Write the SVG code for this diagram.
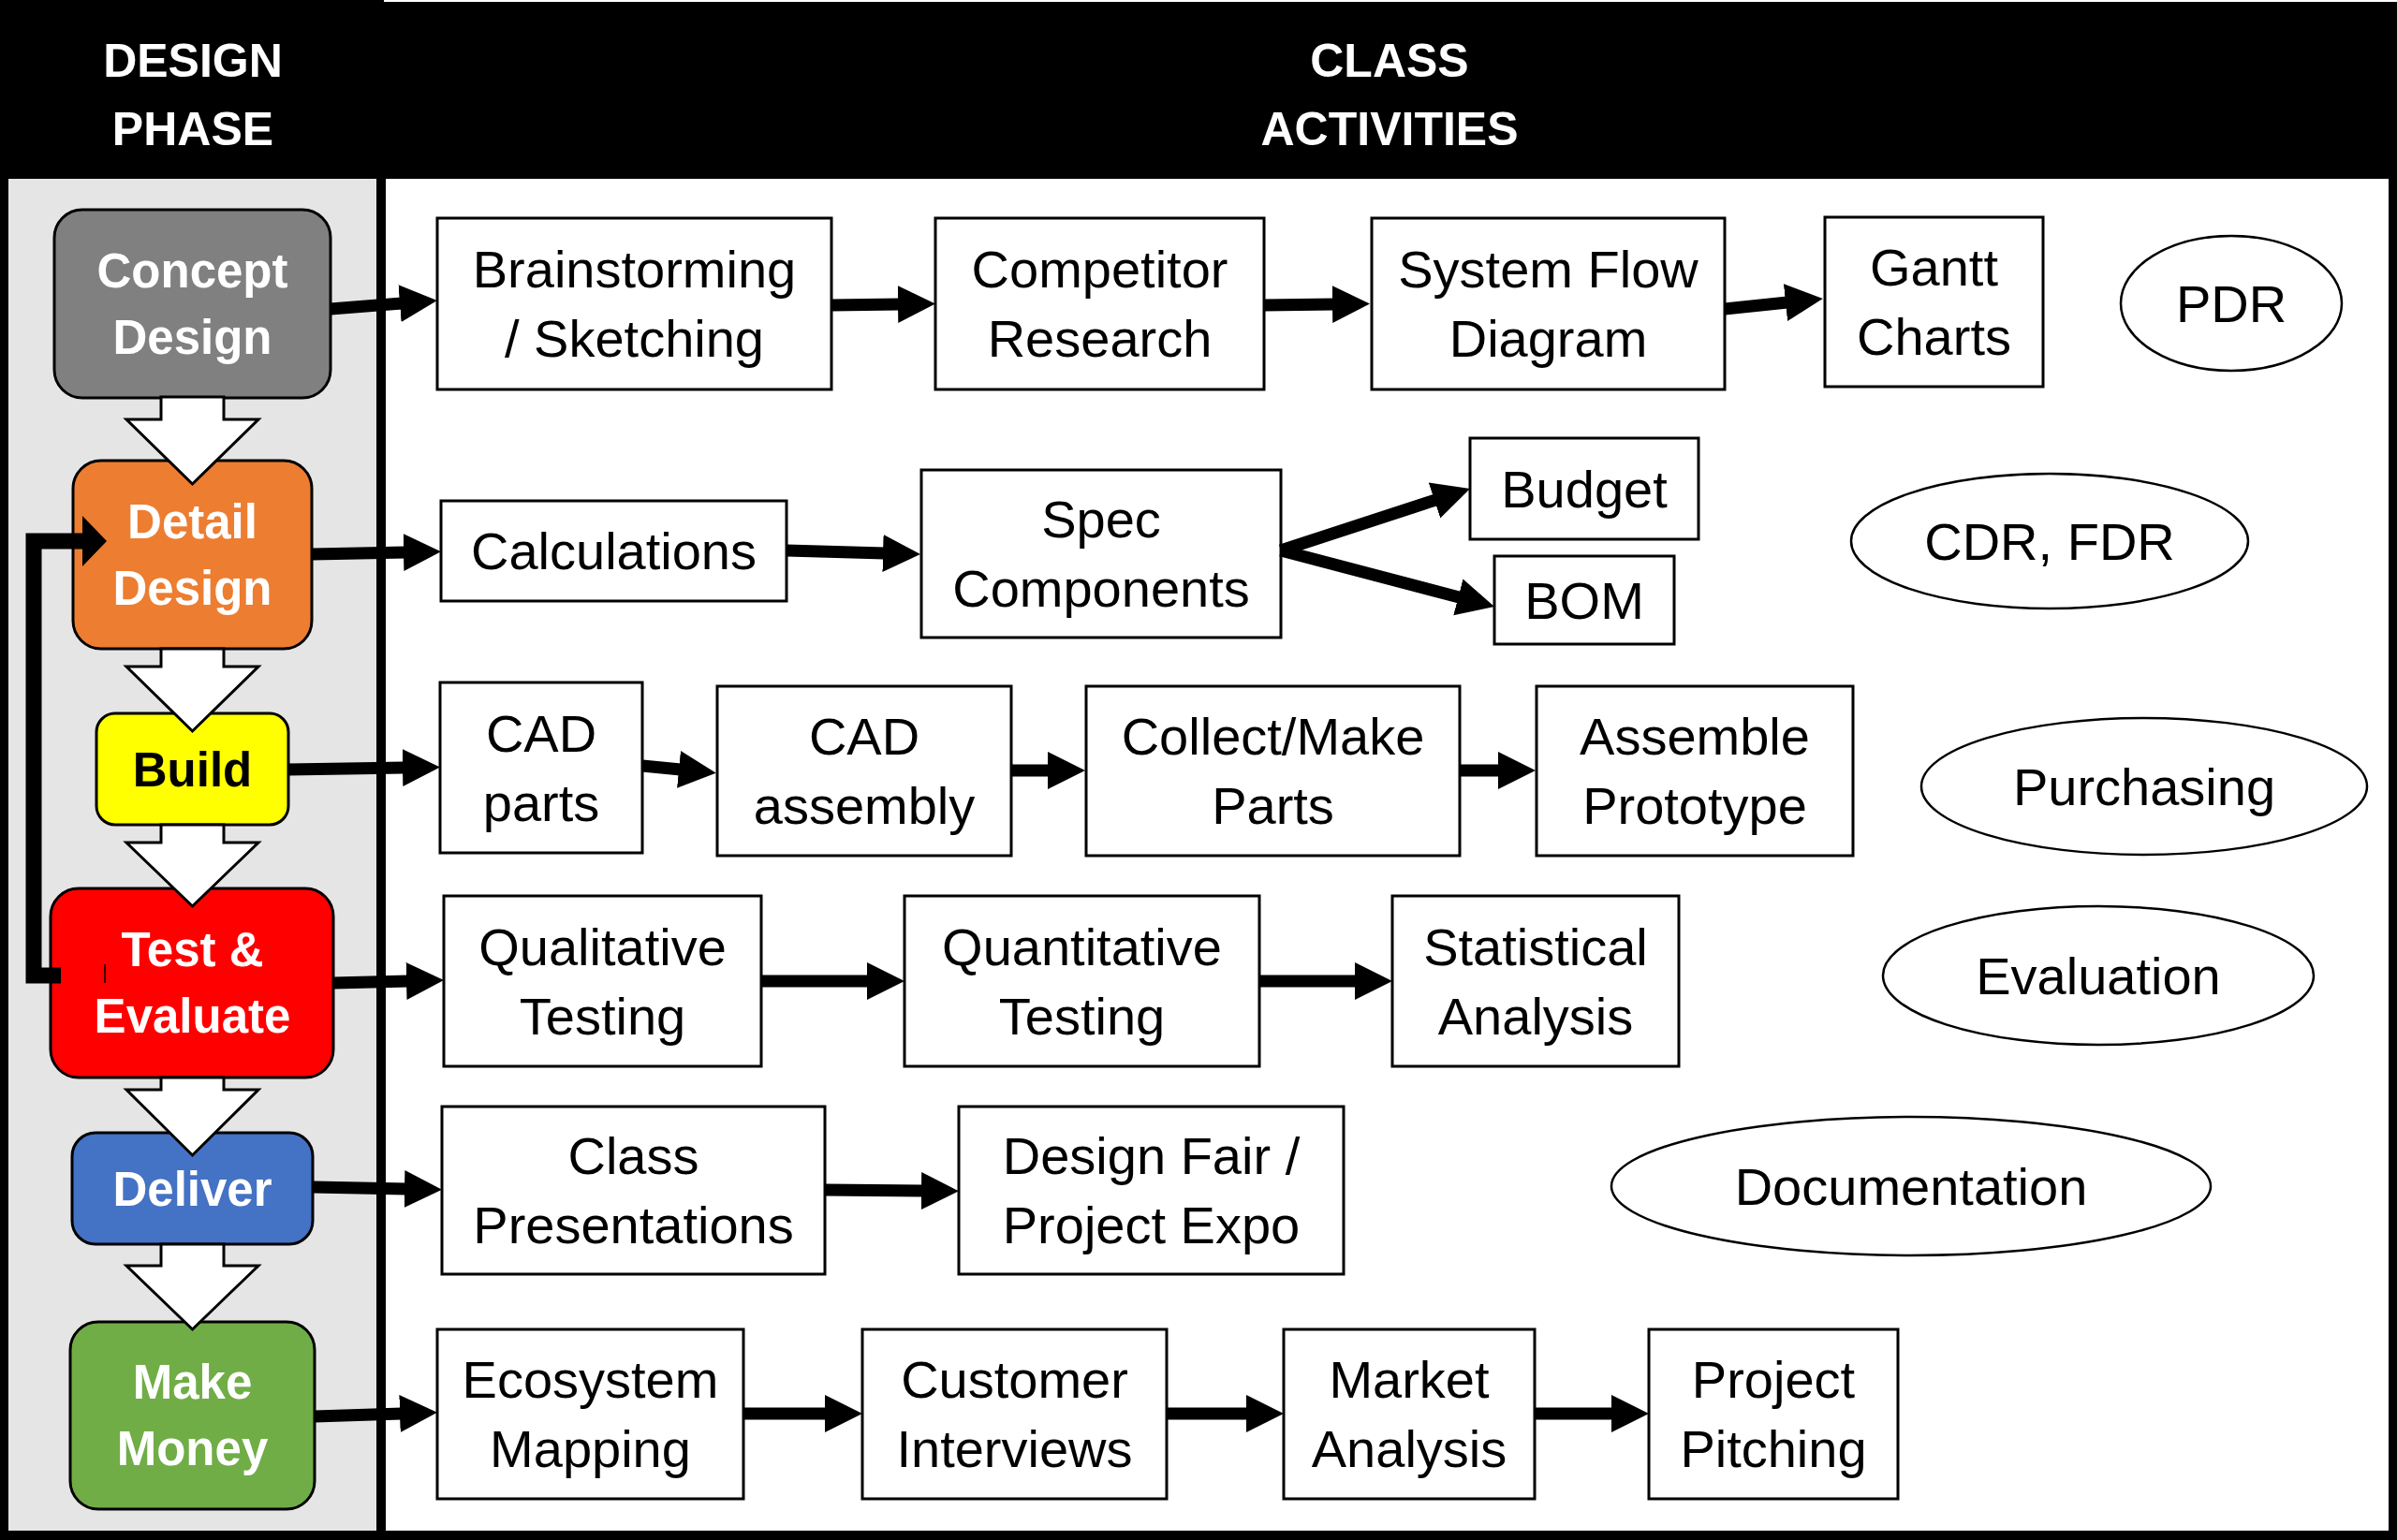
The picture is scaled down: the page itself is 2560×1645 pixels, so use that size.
<svg xmlns="http://www.w3.org/2000/svg" width="2560" height="1645" viewBox="0 0 2560 1645">
<defs>
<style>
.hdr{font-family:"Liberation Sans",Arial,sans-serif;font-weight:bold;font-size:50px;fill:#fff;text-anchor:middle}
.ph{stroke:#000;stroke-width:3}
.pt{font-family:"Liberation Sans",Arial,sans-serif;font-weight:bold;font-size:51px;fill:#fff;text-anchor:middle}
.box{fill:#fff;stroke:#000;stroke-width:3}
.ov{fill:#fff;stroke:#000;stroke-width:2.5}
.t{font-family:"Liberation Sans",Arial,sans-serif;font-size:56px;fill:#000;text-anchor:middle}
.c{stroke:#000;stroke-width:13;fill:none;marker-end:url(#ah)}
.blk{fill:#fff;stroke:#000;stroke-width:3;stroke-linejoin:miter}
</style>
<marker id="ah" markerUnits="userSpaceOnUse" markerWidth="44" markerHeight="44" viewBox="0 -22 44 44" refX="2" refY="0" orient="auto">
<path d="M0,-20 L40,0 L0,20 z" fill="#000"/>
</marker>
</defs>

<g id="background">
<rect x="0" y="0" width="2560" height="1645" fill="#000"/>
<rect x="410" y="0" width="2150" height="2" fill="#fff"/>
<rect x="9" y="191" width="393" height="1444" fill="#e5e5e5"/>
<rect x="412" y="191" width="2139" height="1444" fill="#fff"/>
<text class="hdr" x="206" y="82">DESIGN</text>
<text class="hdr" x="206" y="155">PHASE</text>
<text class="hdr" x="1484" y="82">CLASS</text>
<text class="hdr" x="1484" y="155">ACTIVITIES</text>
</g>

<g id="phase-concept">
<rect class="ph" x="58" y="224" width="295" height="201" rx="30" fill="#808080"/>
<text class="pt" x="205.5" y="307">Concept</text>
<text class="pt" x="205.5" y="378">Design</text>
</g>
<g id="phase-detail">
<rect class="ph" x="78" y="492" width="255" height="201" rx="30" fill="#ed7d31"/>
<text class="pt" x="205.5" y="575">Detail</text>
<text class="pt" x="205.5" y="646">Design</text>
</g>
<g id="phase-build">
<rect class="ph" x="103" y="762" width="205" height="119" rx="20" fill="#ffff00"/>
<text class="pt" x="205.5" y="840" fill="#000" style="fill:#000">Build</text>
</g>
<g id="phase-test">
<rect class="ph" x="54" y="949" width="302" height="202" rx="30" fill="#ff0000"/>
<text class="pt" x="205.5" y="1032">Test &amp;</text>
<text class="pt" x="205.5" y="1103">Evaluate</text>
</g>
<g id="phase-deliver">
<rect class="ph" x="77" y="1210" width="257" height="119" rx="25" fill="#4472c4"/>
<text class="pt" x="205.5" y="1288">Deliver</text>
</g>
<g id="phase-money">
<rect class="ph" x="75" y="1412" width="261" height="200" rx="30" fill="#70ad47"/>
<text class="pt" x="205.5" y="1494">Make</text>
<text class="pt" x="205.5" y="1565">Money</text>
</g>

<g id="act-brainstorm"><rect class="box" x="467" y="233" width="421" height="183"/><text class="t" x="677.5" y="307">Brainstorming</text><text class="t" x="677.5" y="381">/ Sketching</text></g>
<g id="act-competitor"><rect class="box" x="999" y="233" width="351" height="183"/><text class="t" x="1174.5" y="307">Competitor</text><text class="t" x="1174.5" y="381">Research</text></g>
<g id="act-sysflow"><rect class="box" x="1465" y="233" width="377" height="183"/><text class="t" x="1653.5" y="307">System Flow</text><text class="t" x="1653.5" y="381">Diagram</text></g>
<g id="act-gantt"><rect class="box" x="1949" y="232" width="233" height="181"/><text class="t" x="2065.5" y="305">Gantt</text><text class="t" x="2065.5" y="379">Charts</text></g>
<g id="rev-pdr"><ellipse class="ov" cx="2383" cy="324" rx="118" ry="72"/><text class="t" x="2383" y="344">PDR</text></g>

<g id="act-calc"><rect class="box" x="471" y="535" width="369" height="107"/><text class="t" x="655.5" y="608">Calculations</text></g>
<g id="act-spec"><rect class="box" x="984" y="502" width="384" height="179"/><text class="t" x="1176" y="574">Spec</text><text class="t" x="1176" y="648">Components</text></g>
<g id="act-budget"><rect class="box" x="1570" y="468" width="244" height="108"/><text class="t" x="1692" y="542">Budget</text></g>
<g id="act-bom"><rect class="box" x="1596" y="594" width="192" height="94"/><text class="t" x="1692" y="661">BOM</text></g>
<g id="rev-cdr"><ellipse class="ov" cx="2189" cy="578" rx="212" ry="72"/><text class="t" x="2189" y="598">CDR, FDR</text></g>

<g id="act-cadparts"><rect class="box" x="470" y="729" width="216" height="182"/><text class="t" x="578" y="803">CAD</text><text class="t" x="578" y="877">parts</text></g>
<g id="act-cadasm"><rect class="box" x="766" y="733" width="314" height="181"/><text class="t" x="923" y="806">CAD</text><text class="t" x="923" y="880">assembly</text></g>
<g id="act-collect"><rect class="box" x="1160" y="733" width="399" height="181"/><text class="t" x="1359.5" y="806">Collect/Make</text><text class="t" x="1359.5" y="880">Parts</text></g>
<g id="act-assemble"><rect class="box" x="1641" y="733" width="338" height="181"/><text class="t" x="1810" y="806">Assemble</text><text class="t" x="1810" y="880">Prototype</text></g>
<g id="rev-purchasing"><ellipse class="ov" cx="2290" cy="840" rx="238" ry="73"/><text class="t" x="2290" y="860">Purchasing</text></g>

<g id="act-qual"><rect class="box" x="474" y="957" width="339" height="182"/><text class="t" x="643.5" y="1031">Qualitative</text><text class="t" x="643.5" y="1105">Testing</text></g>
<g id="act-quant"><rect class="box" x="966" y="957" width="379" height="182"/><text class="t" x="1155.5" y="1031">Quantitative</text><text class="t" x="1155.5" y="1105">Testing</text></g>
<g id="act-stat"><rect class="box" x="1487" y="957" width="306" height="182"/><text class="t" x="1640" y="1031">Statistical</text><text class="t" x="1640" y="1105">Analysis</text></g>
<g id="rev-evaluation"><ellipse class="ov" cx="2241" cy="1042" rx="230" ry="74"/><text class="t" x="2241" y="1062">Evaluation</text></g>

<g id="act-classpres"><rect class="box" x="472" y="1182" width="409" height="179"/><text class="t" x="676.5" y="1254">Class</text><text class="t" x="676.5" y="1328">Presentations</text></g>
<g id="act-designfair"><rect class="box" x="1024" y="1182" width="411" height="179"/><text class="t" x="1229.5" y="1254">Design Fair /</text><text class="t" x="1229.5" y="1328">Project Expo</text></g>
<g id="rev-documentation"><ellipse class="ov" cx="2041" cy="1267" rx="320" ry="74"/><text class="t" x="2041" y="1287">Documentation</text></g>

<g id="act-eco"><rect class="box" x="467" y="1420" width="327" height="181"/><text class="t" x="630.5" y="1493">Ecosystem</text><text class="t" x="630.5" y="1567">Mapping</text></g>
<g id="act-customer"><rect class="box" x="921" y="1420" width="325" height="181"/><text class="t" x="1083.5" y="1493">Customer</text><text class="t" x="1083.5" y="1567">Interviews</text></g>
<g id="act-market"><rect class="box" x="1371" y="1420" width="268" height="181"/><text class="t" x="1505" y="1493">Market</text><text class="t" x="1505" y="1567">Analysis</text></g>
<g id="act-pitch"><rect class="box" x="1761" y="1420" width="266" height="181"/><text class="t" x="1894" y="1493">Project</text><text class="t" x="1894" y="1567">Pitching</text></g>

<g id="connectors">
<polygon class="blk" points="172,424 239,424 239,448 276,448 205.5,517 135,448 172,448"/>
<polygon class="blk" points="172,693 239,693 239,712 276,712 205.5,781 135,712 172,712"/>
<polygon class="blk" points="172,881 239,881 239,900 276,900 205.5,968 135,900 172,900"/>
<polygon class="blk" points="172,1151 239,1151 239,1164 276,1164 205.5,1234 135,1164 172,1164"/>
<polygon class="blk" points="172,1329 239,1329 239,1352 276,1352 205.5,1420 135,1352 172,1352"/>

<path d="M65,1042 H36 V578 H92" fill="none" stroke="#000" stroke-width="17" stroke-linejoin="miter"/>
<polygon points="88,551 114,578 88,605" fill="#000"/>
<line x1="112" y1="1030" x2="112" y2="1050" stroke="#000" stroke-width="1.5"/>

<line class="c" x1="353" y1="330" x2="429" y2="324"/>
<line class="c" x1="888" y1="326" x2="961" y2="325"/>
<line class="c" x1="1350" y1="326" x2="1425" y2="325"/>
<line class="c" x1="1842" y1="330" x2="1909" y2="323"/>
<line class="c" x1="333" y1="592" x2="433" y2="590"/>
<line class="c" x1="840" y1="588" x2="945" y2="591"/>
<line class="c" x1="1368" y1="588" x2="1533.9" y2="533.8"/>
<line class="c" x1="1368" y1="588" x2="1559.3" y2="638.3"/>
<line class="c" x1="308" y1="822" x2="432" y2="820"/>
<line class="c" x1="686" y1="818" x2="727" y2="822"/>
<line class="c" x1="1080" y1="823" x2="1121" y2="823"/>
<line class="c" x1="1559" y1="823" x2="1602" y2="823"/>
<line class="c" x1="356" y1="1050" x2="436" y2="1048"/>
<line class="c" x1="813" y1="1048" x2="928" y2="1048"/>
<line class="c" x1="1345" y1="1048" x2="1449" y2="1048"/>
<line class="c" x1="334" y1="1268" x2="434" y2="1270"/>
<line class="c" x1="881" y1="1271" x2="986" y2="1272"/>
<line class="c" x1="336" y1="1513" x2="429" y2="1510"/>
<line class="c" x1="794" y1="1510" x2="883" y2="1510"/>
<line class="c" x1="1246" y1="1510" x2="1333" y2="1510"/>
<line class="c" x1="1639" y1="1510" x2="1723" y2="1510"/>
</g>
</svg>
